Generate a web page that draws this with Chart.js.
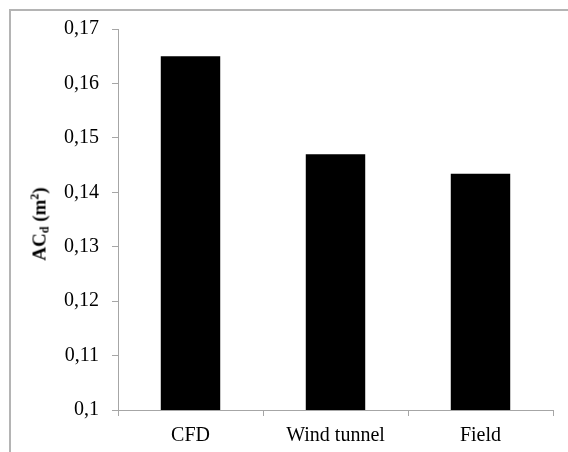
<!DOCTYPE html>
<html>
<head>
<meta charset="UTF-8">
<title>ACd comparison</title>
<style>
    html, body { margin: 0; padding: 0; background: #fff; overflow: hidden; }
    .wrap { position: relative; width: 568px; height: 452px; }
    .frame { position: absolute; left: 9px; top: 9px; width: 620px; height: 520px; border: 2px solid #b4b4b4; box-sizing: border-box; }
    canvas { position: absolute; left: 0; top: 0; }
    .ytitle {
        position: absolute; left: 40px; top: 224px;
        transform: translate(-50%, -50%) rotate(-90deg);
        font-family: "Liberation Serif", "Times New Roman", serif;
        font-weight: bold; font-size: 19px; white-space: nowrap; color: #000;
    }
    .ytitle sub { font-size: 12px; vertical-align: -3px; }
    .ytitle sup { font-size: 12px; vertical-align: 7px; }
</style>
<script src="https://cdn.jsdelivr.net/npm/chart.js"></script>
</head>
<body>
<div class="wrap">
    <div class="frame"></div>
    <canvas id="myChart" width="568" height="452"></canvas>
    <div class="ytitle">AC<sub>d</sub> (m<sup>2</sup>)</div>
</div>
<script>
    // data
    const categories = ['CFD', 'Wind tunnel', 'Field'];
    const acdValues = [0.165, 0.147, 0.1434];
    const yMin = 0.1, yMax = 0.17, yStep = 0.01;

    const serif = '"Liberation Serif", "Times New Roman", serif';
    const axisGrey = '#a6a6a6';

    function fmt(v) {
        return Number(v.toFixed(2)).toString().replace('.', ',');
    }

    const ctx = document.getElementById('myChart').getContext('2d');
    const myChart = new Chart(ctx, {
        type: 'bar',
        data: {
            labels: categories,
            datasets: [{
                data: acdValues,
                backgroundColor: '#000',
                borderWidth: 0,
                barPercentage: 0.41,
                categoryPercentage: 1
            }]
        },
        options: {
            responsive: false,
            animation: false,
            layout: { padding: { left: 0, top: 29, right: 15, bottom: 0 } },
            plugins: { legend: { display: false }, tooltip: { enabled: false } },
            scales: {
                x: {
                    grid: { drawOnChartArea: false, color: axisGrey, tickLength: 6, offset: true },
                    border: { color: axisGrey, width: 1 },
                    ticks: { color: '#000', font: { family: serif, size: 20 }, padding: 8 },
                    afterFit: s => { s.height = 42; }
                },
                y: {
                    min: yMin, max: yMax,
                    grid: { drawOnChartArea: false, color: axisGrey, tickLength: 6 },
                    border: { color: axisGrey, width: 1 },
                    ticks: {
                        stepSize: yStep, color: '#000', padding: 13,
                        font: { family: serif, size: 20 },
                        callback: v => fmt(v)
                    },
                    afterFit: s => { s.width = 118; }
                }
            }
        }
    });
</script>
</body>
</html>
